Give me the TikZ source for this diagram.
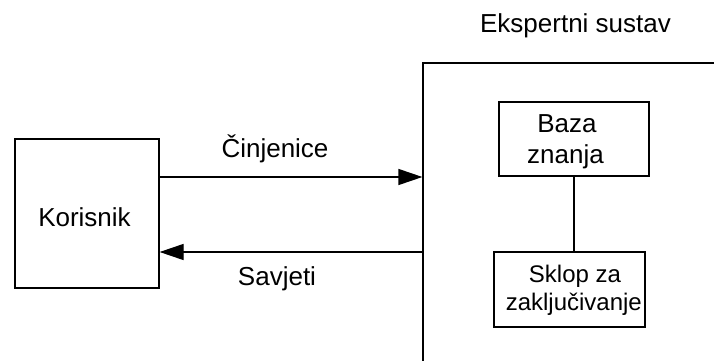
\documentclass[tikz,border=0pt]{standalone}
\usepackage{fontspec}
\setmainfont{Liberation Sans}
\usetikzlibrary{arrows.meta}
\begin{document}
\begin{tikzpicture}[x=1pt,y=-1pt,
  box/.style={draw,line width=1.2pt,inner sep=0pt,rectangle},
  txt/.style={font=\fontsize{26}{31}\selectfont,inner sep=0pt,anchor=base},
  stxt/.style={font=\fontsize{24}{27}\selectfont,inner sep=0pt,anchor=base},
  conn/.style={line width=1.2pt},
  arr/.style={conn,-{Triangle[length=24pt,width=16pt]}}]
\useasboundingbox (0,0) rectangle (714,361);
\clip (0,0) rectangle (714,361);
% boxes
\node[box,minimum width=144pt,minimum height=149pt] (kor) at (87,213.5) {};
\node[box,minimum width=400pt,minimum height=400pt] (es) at (623,263) {};
\node[box,minimum width=150pt,minimum height=74pt] (baza) at (574,139) {};
\node[box,minimum width=151pt,minimum height=75pt] (sklop) at (569.5,289.5) {};
% texts
\node[txt] (kort) at (84.5,226.5) {Korisnik};
\node[txt] (est) at (575.5,32.7) {Ekspertni sustav};
\node[txt] (bazat1) at (567,132.3) {Baza};
\node[txt] (bazat2) at (565.5,163.3) {znanja};
\node[stxt] (sklopt1) at (575,282.7) {Sklop za};
\node[stxt] (sklopt2) at (573.8,310) {zaključivanje};
\node[txt] (cin) at (275,157.7) {Činjenice};
\node[txt] (sav) at (277,285.5) {Savjeti};
% connectors
\coordinate (c1) at (0,177);
\coordinate (c2) at (0,252);
\draw[arr] (kor.east |- c1) -- (es.west |- c1);
\draw[arr] (es.west |- c2) -- (kor.east |- c2);
\draw[conn] (baza.south) -- (baza.south |- sklop.north);
\end{tikzpicture}
\end{document}
